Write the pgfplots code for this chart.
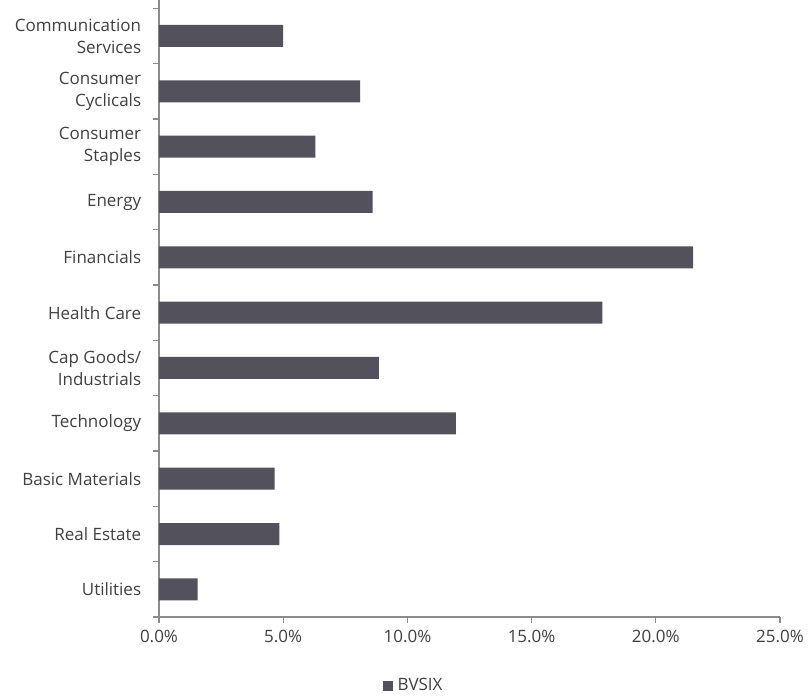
\documentclass[border=0pt]{standalone}
\usepackage{pgfplots}
\pgfplotsset{compat=1.18}
\usepackage{fontspec}
\setmainfont{Open Sans}
\definecolor{barc}{HTML}{53525C}
\definecolor{axc}{HTML}{8C8C8C}
\definecolor{txt}{HTML}{404040}
\begin{document}
\fontsize{17bp}{22bp}\selectfont
\begin{tikzpicture}
\begin{axis}[
    scale only axis,
    width=621bp, height=617bp,
    xbar,
    bar width=22bp,
    y dir=reverse,
    xmin=0, xmax=25,
    ymin=-0.65, ymax=10.5,
    xtick={0,5,10,15,20,25},
    xticklabel={\pgfmathprintnumber[fixed,fixed zerofill,precision=1]{\tick}\%},
    /pgf/number format/assume math mode=true,
    ytick={0,1,2,3,4,5,6,7,8,9,10},
    yticklabels={{Communication\\Services},{Consumer\\Cyclicals},{Consumer\\Staples},Energy,Financials,Health Care,{Cap Goods/\\Industrials},Technology,Basic Materials,Real Estate,Utilities},
    yticklabel style={align=right, font=\fontsize{17bp}{22bp}\selectfont, text=txt, xshift=-12bp},
    xticklabel style={font=\fontsize{17bp}{22bp}\selectfont, text=txt, yshift=-7bp},
    minor ytick={-0.5,0.5,...,10.5},
    major tick length=0pt,
    minor tick length=6bp,
    tick align=outside,
    extra x ticks={0,5,10,15,20,25},
    extra x tick labels={},
    extra x tick style={major tick length=6bp, tick style={axc, line width=1.2bp}},
    axis x line*=bottom,
    axis y line*=left,
    axis line style={axc, line width=1.2bp, -},
    tick style={axc, line width=1.2bp},
    legend style={at={(0.41,-0.112)}, anchor=center, draw=none, fill=none,
        font=\fontsize{17bp}{22bp}\selectfont, text=txt},
    legend image code/.code={\fill[barc] (0bp,-5bp) rectangle (10bp,5bp);},
    legend cell align=left,
]
\addplot[fill=barc, draw=none] coordinates {
    (5.0,0) (8.1,1) (6.3,2) (8.6,3) (21.5,4) (17.85,5) (8.85,6) (11.95,7) (4.65,8) (4.85,9) (1.55,10)
};
\legend{\hspace{3bp}BVSIX}
\end{axis}
\pgfresetboundingbox
\path ([shift={(-159bp,-79bp)}]current axis.south west) rectangle ([shift={(31bp,0bp)}]current axis.north east);
\end{tikzpicture}
\end{document}
